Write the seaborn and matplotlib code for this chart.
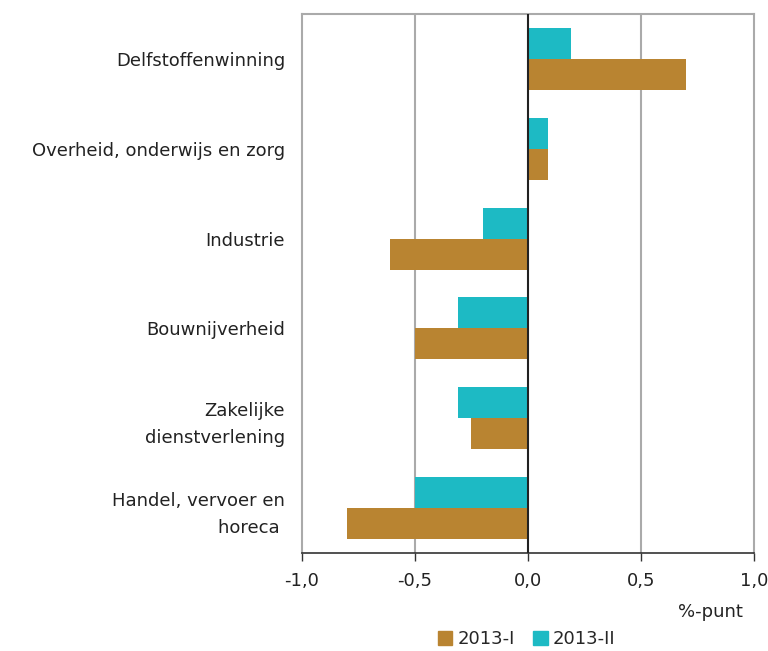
import matplotlib
matplotlib.use("Agg")
import matplotlib.pyplot as plt
import matplotlib.patches as mpatches
import numpy as np
import pandas as pd
import seaborn as sb

categories = ["Delfstoffenwinning", "Overheid, onderwijs en zorg", "Industrie",
              "Bouwnijverheid", "Zakelijke\ndienstverlening", "Handel, vervoer en\nhoreca "]
q1_2013 = [0.70, 0.09, -0.61, -0.50, -0.25, -0.80]
q2_2013 = [0.19, 0.09, -0.20, -0.31, -0.31, -0.50]
series = ["2013-I", "2013-II"]
colors = {"2013-I": "#B98431", "2013-II": "#1DBAC4"}

df = pd.DataFrame({
    "sector": categories * 2,
    "waarde": q1_2013 + q2_2013,
    "periode": ["2013-I"] * len(categories) + ["2013-II"] * len(categories),
})

sb.set_style("white")
plt.rcParams["font.family"] = ["DejaVu Sans"]
fs = 13

fig = plt.figure(figsize=(7.68, 6.51), dpi=100)
ax = fig.add_axes([0.393, 0.1505, 0.589, 0.828])

sb.barplot(data=df, y="sector", x="waarde", hue="periode",
           hue_order=["2013-II", "2013-I"], order=categories,
           palette=colors, orient="h", width=0.69, saturation=1,
           linewidth=0, legend=False, ax=ax)

ax.set_xlim(-1.0, 1.0)
ax.set_ylim(5.5, -0.5)
ax.set_xticks(np.arange(-1.0, 1.01, 0.5))
ax.set_xticklabels(["-1,0", "-0,5", "0,0", "0,5", "1,0"], fontsize=fs, color="#222222")
for x in [-0.5, 0.5]:
    ax.axvline(x, color="#AAAAAA", lw=1.5, zorder=0)
ax.axvline(0, color="#222222", lw=1.5, zorder=3)

ax.set_xlabel("")
ax.set_ylabel("")
ax.tick_params(axis="y", length=0, pad=12, labelsize=fs, labelcolor="#222222")
ax.tick_params(axis="x", direction="out", length=6, width=1, color="#333333", pad=8, bottom=True)
for lab in ax.get_yticklabels():
    lab.set_horizontalalignment("right")
    lab.set_multialignment("right")
    lab.set_linespacing(1.6)

for side in ["top", "right", "left"]:
    ax.spines[side].set_color("#AAAAAA")
    ax.spines[side].set_linewidth(1.5)
ax.spines["bottom"].set_color("#333333")
ax.spines["bottom"].set_linewidth(1.2)

fig.text(0.925, 0.06, "%-punt", ha="center", va="center", fontsize=fs, color="#222222")

handles = [mpatches.Patch(color=colors[s], label=s) for s in series]
fig.legend(handles=handles, loc="center", bbox_to_anchor=(0.686, 0.018), ncol=2,
           frameon=False, fontsize=fs, handlelength=0.8, handleheight=0.8,
           handletextpad=0.3, columnspacing=1.0, borderpad=0.1)

fig.savefig("out.png", dpi=100)
